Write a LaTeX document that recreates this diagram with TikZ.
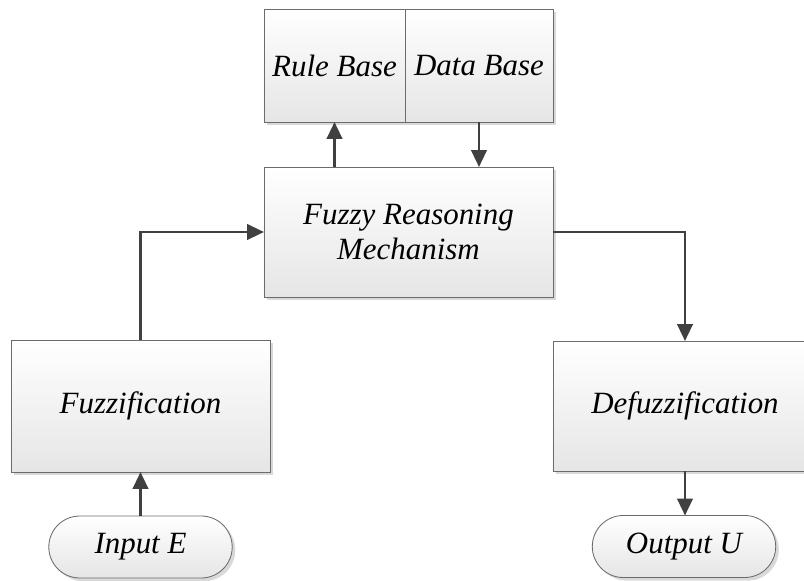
\documentclass[tikz,border=0pt]{standalone}
\usepackage{fontspec}
\setmainfont{Liberation Serif}
\usetikzlibrary{arrows.meta,shadows,shapes.misc}
\definecolor{linegray}{HTML}{6B6B6B}
\definecolor{arrowgray}{HTML}{404040}

\begin{document}
\begin{tikzpicture}[x=0.025cm,y=-0.025cm,
  block/.style={draw=linegray,line width=0.6pt,top color=white,bottom color=black!10,
    drop shadow={shadow xshift=2.2pt,shadow yshift=-2.2pt,fill=black!15,opacity=1},
    outer sep=0pt,inner sep=2pt,align=center,
    font=\fontsize{22}{25}\selectfont\itshape},
  terminal/.style={block,rounded rectangle},
  flow/.style={draw=arrowgray,line width=1.8pt,
    -{Triangle[width=11pt,length=12pt]}}]
\useasboundingbox (0,0) rectangle (804,580);
%\draw[help lines] (0,0) grid (804,580);
% knowledge base
\node[block,minimum width=3.525cm,minimum height=2.825cm] (rule) at (334.5,65.5) {Rule Base};
\node[block,minimum width=3.7cm,minimum height=2.825cm] (data) at (479,65.5) {Data Base};
% inference
\node[block,minimum width=7.225cm,minimum height=3.25cm] (fuzzy) at (408.5,232) {Fuzzy Reasoning\\Mechanism};
% interfaces
\node[block,minimum width=6.475cm,minimum height=3.3cm] (fuzz) at (140.5,406) {Fuzzification};
\node[block,minimum width=6.6cm,minimum height=3.25cm] (defuzz) at (685,406) {Defuzzification};
% in / out
\node[terminal,minimum width=4.725cm,minimum height=1.55cm] (input) at (140.5,547) {Input E};
\node[terminal,minimum width=4.725cm,minimum height=1.55cm] (output) at (684,546.5) {Output U};
% connectors
\draw[flow] (input.north) -- (fuzz.south);
\draw[flow] (fuzz.north) |- (fuzzy.west);
\draw[flow] (fuzzy.north -| rule) -- (rule.south);
\draw[flow] (data.south) -- (data.south |- fuzzy.north);
\draw[flow] (fuzzy.east) -| (defuzz.north);
\draw[flow] (defuzz.south) -- (defuzz.south |- output.north);
\end{tikzpicture}
\end{document}
